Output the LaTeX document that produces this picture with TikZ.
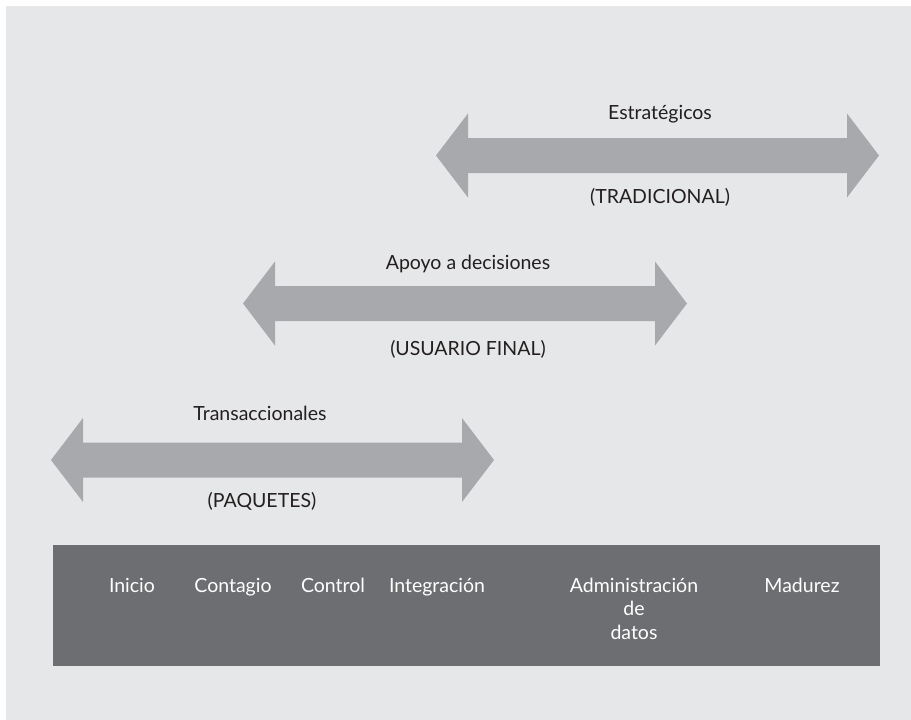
\documentclass[tikz,border=0pt]{standalone}
\usepackage{fontspec}
\setmainfont{Lato}
\definecolor{bgc}{HTML}{E6E7E8}
\definecolor{arrc}{HTML}{A7A9AC}
\definecolor{barc}{HTML}{6D6E71}
\definecolor{txtc}{HTML}{231F20}
\newcommand\dblarr[4]{% name, x tip left, x tip right, y center
  \fill[arrc] (#2,#4) -- (#2+32,#4-42) -- (#2+32,#4-17.5) -- (#3-32,#4-17.5) -- (#3-32,#4-42)
    -- (#3,#4) -- (#3-32,#4+42) -- (#3-32,#4+17.5) -- (#2+32,#4+17.5) -- (#2+32,#4+42) -- cycle;
  \coordinate (#1) at ({(#2+#3)/2},#4);}
\begin{document}
\begin{tikzpicture}[x=1pt,y=-1pt,
  lbl/.style={font=\fontsize{19.5}{23.5}\selectfont, text=txtc, inner sep=0pt, anchor=base},
  wlbl/.style={lbl, text=white, align=center}]
\useasboundingbox (0,0) rectangle (911,720);
\fill[white] (0,0) rectangle (911,720);
\fill[bgc] (6,6) rectangle (911,720);
\dblarr{a1}{436}{879}{155.5}
\dblarr{a2}{243}{687}{303.5}
\dblarr{a3}{51}{494}{460}
\node[lbl] (t1) at (660,119) {Estratégicos};
\node[lbl] (b1) at (660,203) {(TRADICIONAL)};
\node[lbl] (t2) at (468,269) {Apoyo a decisiones};
\node[lbl] (b2) at (468,355) {(USUARIO FINAL)};
\node[lbl] (t3) at (260,420) {Transaccionales};
\node[lbl] (b3) at (262,507) {(PAQUETES)};
\fill[barc] (53,545) rectangle (880,666);
\node[wlbl] (s1) at (132,592) {Inicio};
\node[wlbl] (s2) at (233,592) {Contagio};
\node[wlbl] (s3) at (333,592) {Control};
\node[wlbl] (s4) at (437,592) {Integración};
\node[wlbl] (s5) at (634,639) {Administración\\de\\datos};
\node[wlbl] (s6) at (802,592) {Madurez};
\end{tikzpicture}
\end{document}
